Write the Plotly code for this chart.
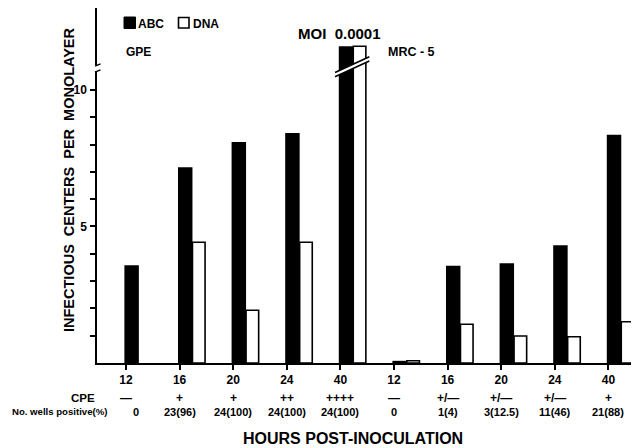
import plotly.graph_objects as go

# ---- data ----
hours = ["12", "16", "20", "24", "40", "12", "16", "20", "24", "40"]
abc = [3.58, 7.17, 8.09, 8.42, 11.6, 0.08, 3.56, 3.65, 4.31, 8.36]
dna = [None, 4.42, 1.93, 4.42, 11.6, 0.08, 1.42, 0.99, 0.96, 1.51]
cpe = ["—", "+", "+", "++", "++++", "—", "+/—", "+/—", "+/—", "+"]
wells = ["0", "23(96)", "24(100)", "24(100)", "24(100)", "0", "1(4)", "3(12.5)", "11(46)", "21(88)"]
y_tickvals = [1, 2, 3, 4, 5, 6, 7, 8, 9, 10]
y_ticktext = ["", "", "", "", "5", "", "", "", "", "10"]

# page body has an 8px margin; work in reference pixel coords and subtract it
OFF = 8
W, H = 631, 440
ML, MR, MT, MB = 97 - OFF, 0, 8 - OFF, 85
PW, PH = W - ML - MR, H - MT - MB
YMAX = 13.0
XMIN = -0.541
XMAX = XMIN + PW / 53.6

FONT = "Liberation Sans"

def px(xp):
    return (xp - OFF - ML) / PW

def py(yp):
    return (H - MB - (yp - OFF)) / PH

def yval(yp):
    return py(yp) * YMAX

x = list(range(len(hours)))

fig = go.Figure()
fig.add_trace(go.Bar(x=x, y=abc, name="ABC", offset=-0.03, width=0.27,
                     marker=dict(color="black", line=dict(color="black", width=0)),
                     showlegend=False))
fig.add_trace(go.Bar(x=x, y=dna, name="DNA", offset=0.24, width=0.235,
                     marker=dict(color="white", line=dict(color="black", width=1.6)),
                     showlegend=False))

shapes = []
# axis break on y axis
yb1 = yval(71)
yb2 = yval(65)
shapes.append(dict(type="rect", xref="paper", yref="y", x0=-0.005, x1=0.005, y0=yb1, y1=yb2,
                   fillcolor="white", line=dict(width=0), layer="above"))
for yy in (yb1, yb2):
    shapes.append(dict(type="line", xref="paper", yref="y", x0=px(95), x1=px(100.5),
                       y0=yy - 0.04, y1=yy + 0.04, line=dict(color="black", width=1.5), layer="above"))

# bar break on the 40h GPE bars (white slanted band)
bx0, bx1 = 4 - 0.1, 4 + 0.54
ylo0 = yval(76.7)
ylo1 = yval(61.0)
gap = 4.2 / PH * YMAX
shapes.append(dict(type="path", xref="x", yref="y",
                   path=f"M{bx0},{ylo0} L{bx1},{ylo1} L{bx1},{ylo1+gap} L{bx0},{ylo0+gap} Z",
                   fillcolor="white", line=dict(width=0), layer="above"))
for off in (0, gap):
    shapes.append(dict(type="line", xref="x", yref="y", x0=bx0, x1=bx1,
                       y0=ylo0 + off, y1=ylo1 + off, line=dict(color="black", width=1.6), layer="above"))

# legend squares
shapes.append(dict(type="rect", xref="paper", yref="paper", x0=px(124), x1=px(135.5),
                   y0=py(28.5), y1=py(17), fillcolor="black", line=dict(color="black", width=1)))
shapes.append(dict(type="rect", xref="paper", yref="paper", x0=px(178.5), x1=px(189),
                   y0=py(28), y1=py(17.5), fillcolor="white", line=dict(color="black", width=1.6)))

ann = []
def txt(t, xp, yp, size, xanchor="left", **kw):
    ann.append(dict(text=t, xref="paper", yref="paper", x=px(xp), y=py(yp), xanchor=xanchor,
                    yanchor="middle", showarrow=False,
                    font=dict(family=FONT, size=size, color="black", weight="bold"), **kw))

txt("ABC", 136, 23.5, 12)
txt("DNA", 190.5, 23.5, 12)
txt("GPE", 124, 52, 12)
txt("MOI  0.0001", 296, 33, 15)
txt("MRC - 5", 386, 52, 12.5)
txt("INFECTIOUS  CENTERS  PER  MONOLAYER", 69, 180, 14.5, xanchor="center", textangle=-90)
txt("CPE", 97, 397.5, 11.5, xanchor="right")
txt("No. wells positive(%)", 109, 411.5, 9.6, xanchor="right")
txt("HOURS POST-INOCULATION", 353, 438, 16, xanchor="center")

for i, (c, w) in enumerate(zip(cpe, wells)):
    ann.append(dict(text=c, xref="x", yref="paper", x=i, y=py(397.5), xanchor="center",
                    yanchor="middle", showarrow=False,
                    font=dict(family=FONT, size=12, color="black", weight="bold")))
    ann.append(dict(text=w, xref="x", yref="paper", x=i, y=py(411.5), xanchor="center",
                    yanchor="middle", showarrow=False, xshift=10 if i == 0 else 0,
                    font=dict(family=FONT, size=11, color="black", weight="bold")))

fig.update_layout(
    width=W, height=H,
    margin=dict(l=ML, r=MR, t=MT, b=MB),
    paper_bgcolor="white", plot_bgcolor="white",
    barmode="overlay",
    shapes=shapes, annotations=ann,
    font=dict(family=FONT, color="black", weight="bold"),
)
fig.update_xaxes(range=[XMIN, XMAX], tickvals=x, ticktext=hours, showline=True,
                 linecolor="black", linewidth=2, ticks="outside", ticklen=5, tickwidth=1.5,
                 tickcolor="black", showgrid=False, zeroline=False,
                 tickfont=dict(family=FONT, size=12, color="black", weight="bold"))
fig.update_yaxes(range=[0, YMAX], tickvals=y_tickvals, ticktext=y_ticktext, showline=True,
                 linecolor="black", linewidth=1.5, ticks="outside", ticklen=5, tickwidth=1.5,
                 tickcolor="black", showgrid=False, zeroline=False, ticklabelstandoff=1,
                 tickfont=dict(family=FONT, size=12, color="black", weight="bold"))

fig.write_html("out.html")
